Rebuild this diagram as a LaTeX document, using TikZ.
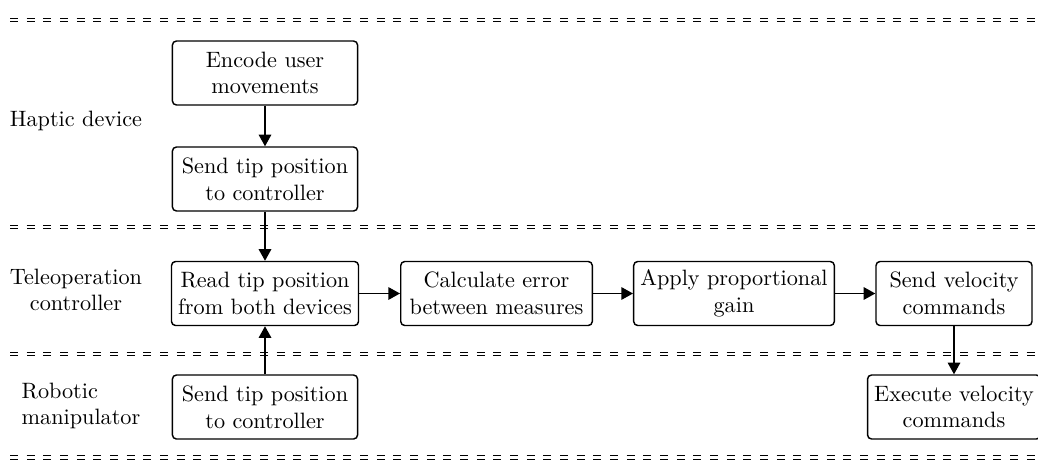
\documentclass[tikz,border=0pt]{standalone}
\usetikzlibrary{arrows.meta}
\begin{document}
\begin{tikzpicture}[x=0.45pt,y=-0.45pt,
  stepbox/.style={draw, rounded corners=1.8pt, align=center, inner sep=3pt,
    minimum height=28.8pt, line width=0.65pt},
  flow/.style={-{Triangle[length=5.2pt,width=5.6pt]}, line width=0.65pt},
  lane/.style={double=white, double distance=1.1pt, line width=0.5pt,
    dash pattern=on 3.6pt off 3.9pt},
  lanelabel/.style={align=center}]
\useasboundingbox (0,0) rectangle (1038,464);

% swimlane separators
\draw[lane] (10,20) -- (1050,20);
\draw[lane] (10,227) -- (1050,227);
\draw[lane] (10,354) -- (1050,354);
\draw[lane] (10,457.5) -- (1050,457.5);

% lane titles
\node[lanelabel] (lhap) at (76,121) {Haptic device};
\node[lanelabel] (ltel) at (76,290) {Teleoperation\\controller};
\node[lanelabel, align=left] (lrob) at (81,406) {Robotic\\manipulator};

% process steps
\node[stepbox, minimum width=83.3pt] (enc) at (265,73) {Encode user\\movements};
\node[stepbox, minimum width=83.3pt] (hsend) at (265,179) {Send tip position\\to controller};
\node[stepbox, minimum width=83.3pt] (read) at (265,293.5) {Read tip position\\from both devices};
\node[stepbox, minimum width=86.2pt] (calc) at (496.5,293.5) {Calculate error\\between measures};
\node[stepbox, minimum width=89.1pt] (apply) at (734,293.5) {Apply proportional\\gain};
\node[stepbox, minimum width=70.2pt] (sendv) at (954,293.5) {Send velocity\\commands};
\node[stepbox, minimum width=83.3pt] (rsend) at (265,407) {Send tip position\\to controller};
\node[stepbox] (exec) at (954,407) {Execute velocity\\commands};

% data flow
\draw[flow] (enc) -- (hsend);
\draw[flow] (hsend) -- (read);
\draw[flow] (rsend) -- (read);
\draw[flow] (read) -- (calc);
\draw[flow] (calc) -- (apply);
\draw[flow] (apply) -- (sendv);
\draw[flow] (sendv) -- (exec);
\end{tikzpicture}
\end{document}
